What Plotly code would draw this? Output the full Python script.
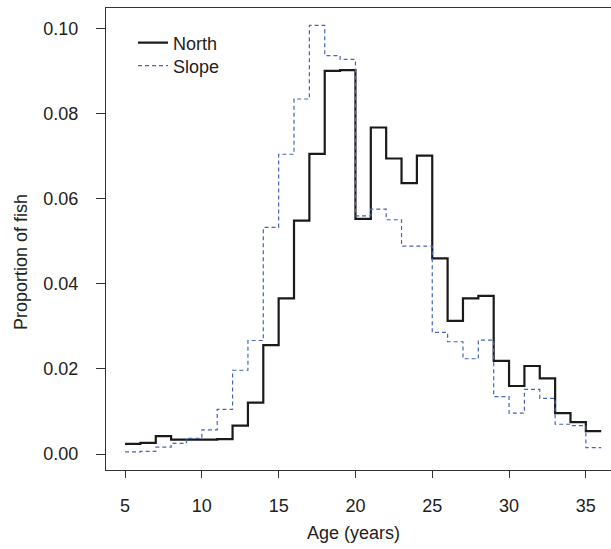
import plotly.graph_objects as go

ages = list(range(5, 36))
north = [0.0024, 0.0026, 0.0042, 0.0034, 0.0034, 0.0034, 0.0035, 0.0067, 0.0121, 0.0256,
         0.0366, 0.0549, 0.0706, 0.0901, 0.0903, 0.0553, 0.0768, 0.0695, 0.0637, 0.0702,
         0.0460, 0.0313, 0.0366, 0.0372, 0.0219, 0.0160, 0.0207, 0.0178, 0.0096, 0.0075,
         0.0054]
slope = [0.0005, 0.0006, 0.0016, 0.0025, 0.0037, 0.0057, 0.0105, 0.0197, 0.0267, 0.0533,
         0.0705, 0.0835, 0.1008, 0.0937, 0.0928, 0.0560, 0.0576, 0.0551, 0.0489, 0.0489,
         0.0286, 0.0264, 0.0224, 0.0268, 0.0135, 0.0096, 0.0152, 0.0131, 0.0070, 0.0067,
         0.0015]
x_ticks = [5, 10, 15, 20, 25, 30, 35]
y_ticks = [0.00, 0.02, 0.04, 0.06, 0.08, 0.10]

# step edges: each value held from age to age+1
x_edges = ages + [ages[-1] + 1]
north_s = north + [north[-1]]
slope_s = slope + [slope[-1]]

FONT = "Liberation Sans, Arial, Helvetica, sans-serif"
TXT = "#222222"

fig = go.Figure()
fig.add_trace(go.Scatter(x=x_edges, y=north_s, mode="lines", name="North", legend="legend",
                         line=dict(shape="hv", color="#1a1a1a", width=2.2)))
fig.add_trace(go.Scatter(x=x_edges, y=slope_s, mode="lines", name="Slope", legend="legend2",
                         line=dict(shape="hv", color="#4466bb", width=1.2, dash="4px,3px")))

leg_common = dict(xanchor="left", yanchor="middle", bgcolor="rgba(0,0,0,0)",
                  font=dict(size=18, color=TXT), itemwidth=30)

fig.update_layout(
    width=611, height=549,
    margin=dict(l=106, r=0, t=8, b=79),
    paper_bgcolor="white", plot_bgcolor="white",
    font=dict(family=FONT, size=18, color=TXT),
    showlegend=True,
    legend=dict(x=(133 - 106) / 505, y=(470 - 43) / 462, **leg_common),
    legend2=dict(x=(133 - 106) / 505, y=(470 - 66) / 462, **leg_common),
    xaxis=dict(range=[3.76, 3.76 + 505 / 15.36], tickvals=x_ticks,
               ticks="outside", ticklen=7, tickcolor="#333", tickwidth=1,
               showline=True, linecolor="#333", linewidth=1, mirror=True,
               showgrid=False, zeroline=False, ticklabelstandoff=12,
               tickfont=dict(size=18, color=TXT)),
    yaxis=dict(range=[-0.00376, 0.1049], tickvals=y_ticks, tickformat=".2f",
               ticks="outside", ticklen=9, tickcolor="#333", tickwidth=1,
               showline=True, linecolor="#333", linewidth=1, mirror=False,
               showgrid=False, zeroline=False, ticklabelstandoff=14,
               tickfont=dict(size=18, color=TXT)),
    annotations=[
        dict(text="Age (years)", xref="paper", yref="paper", x=0.49, y=-(533 - 470) / 462,
             xanchor="center", yanchor="middle", showarrow=False,
             font=dict(size=18, color=TXT)),
        dict(text="Proportion of fish", xref="paper", yref="paper", x=(21 - 106) / 505,
             y=(470 - 262) / 462, xanchor="center", yanchor="middle", textangle=-90,
             showarrow=False, font=dict(size=18, color=TXT)),
    ],
)

fig.write_html("out.html")
